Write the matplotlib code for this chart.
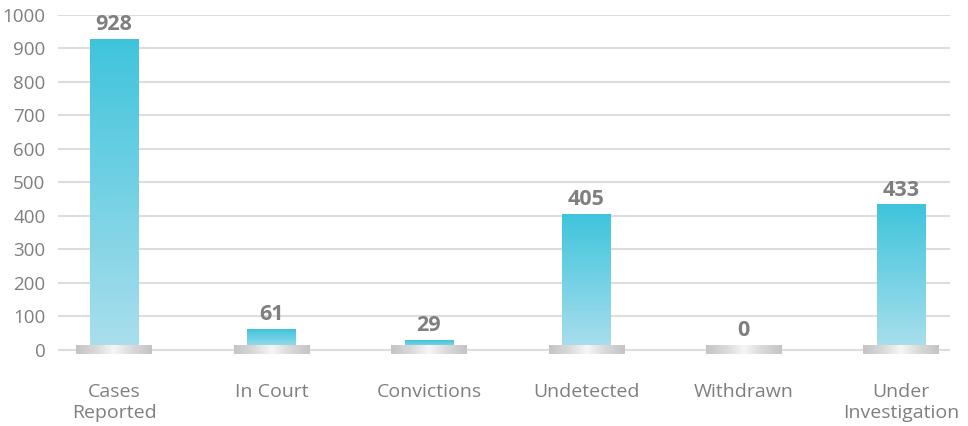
import numpy as np
import matplotlib
matplotlib.use("Agg")
from matplotlib import pyplot as plt
from matplotlib.colors import LinearSegmentedColormap

categories = ["Cases\nReported", "In Court", "Convictions", "Undetected",
              "Withdrawn", "Under\nInvestigation"]
values = [928, 61, 29, 405, 0, 433]
y_ticks = [0, 100, 200, 300, 400, 500, 600, 700, 800, 900, 1000]

plt.rcParams['font.family'] = ['Open Sans', 'DejaVu Sans']
text_grey = '#7f7f80'

fig = plt.figure(figsize=(9.68, 4.26), dpi=100)
ax = fig.add_axes([0.0599, 0.1627, 0.9215, 0.8021])

bar_cmap = LinearSegmentedColormap.from_list("bar", ["#abdfed", "#3fc4dc"])
plate_cmap = LinearSegmentedColormap.from_list(
    "plate", ["#c4c4c4", "#d8d8d8", "#f6f6f6", "#d8d8d8", "#c4c4c4"])

bar_w = 0.305
plate_w = 0.48
plate_h = 13
grad_v = np.linspace(0, 1, 256).reshape(-1, 1)
grad_h = np.linspace(0, 1, 256).reshape(1, -1)

for i, v in enumerate(values):
    if v > 0:
        ax.imshow(grad_v, cmap=bar_cmap, origin='lower', aspect='auto',
                  extent=(i - bar_w / 2, i + bar_w / 2, 0, v), zorder=2,
                  interpolation='bilinear')
    ax.imshow(grad_h, cmap=plate_cmap, aspect='auto',
              extent=(i - plate_w / 2, i + plate_w / 2, -plate_h, plate_h),
              zorder=3, interpolation='bilinear')
    ax.annotate(str(v), (i, max(v, plate_h)), xytext=(0, 3),
                textcoords='offset points', ha='center', va='bottom',
                fontsize=15.5, fontweight='bold', color=text_grey)

ax.set_xlim(-0.356, 5.31)
ax.set_ylim(-20, 1000)
ax.set_yticks(y_ticks)
ax.set_xticks(range(len(categories)))
ax.set_xticklabels(categories, linespacing=1.2)
ax.yaxis.grid(True, color='#dddddd', linewidth=1.5, zorder=0)
ax.set_axisbelow(True)
for s in ax.spines.values():
    s.set_visible(False)
ax.tick_params(axis='y', length=0, pad=9, labelsize=13.5, labelcolor=text_grey)
ax.tick_params(axis='x', length=0, pad=19, labelsize=14, labelcolor=text_grey)

fig.savefig("out.png", dpi=100)
